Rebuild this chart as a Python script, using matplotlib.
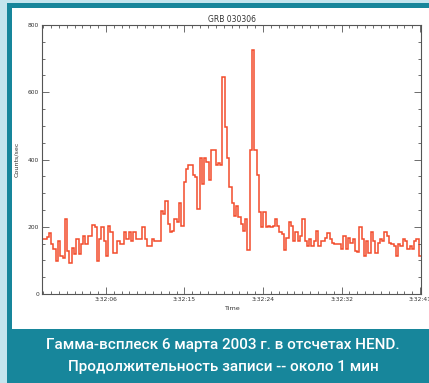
import numpy as np
import matplotlib
matplotlib.use("Agg")
import matplotlib.pyplot as plt
from matplotlib.patches import Rectangle
from matplotlib.ticker import FixedLocator, MultipleLocator

# ---- data ----
title = "GRB 030306"
xlabel = "Time"
ylabel = "Counts/sec"
caption1 = "Гамма-всплеск 6 марта 2003 г. в отсчетах HEND."
caption2 = "Продолжительность записи -- около 1 мин"

bin_width = 0.25  # seconds
counts = [
    165, 165, 170, 181, 148, 133, 98, 158, 113, 108, 223,
    128, 93, 138, 118, 163, 118, 148, 173, 148, 173, 173,
    205, 198, 98, 163, 198, 158, 113, 203, 183, 123, 123,
    158, 148, 148, 183, 163, 183, 158, 183, 163, 163, 163,
    198, 163, 143, 143, 163, 158, 158, 158, 248, 238, 278,
    208, 183, 188, 223, 213, 271, 203, 333, 373, 385, 385,
    353, 348, 253, 403, 328, 403, 393, 338, 428, 428,
    385, 390, 383, 646, 498, 403, 318, 271, 233, 263,
    228, 208, 188, 223, 131, 428, 725, 428, 353, 245,
    198, 245, 198, 203, 198, 203, 223, 203, 183, 178,
    131, 168, 215, 203, 158, 183, 158, 173, 223, 158,
    143, 163, 143, 158, 188, 143, 158, 158, 168, 181,
    163, 153, 148, 148, 148, 133, 173, 133, 168, 153,
    163, 128, 125, 198, 163, 113, 158, 123, 183, 158,
    123, 153, 163, 158, 183, 173, 153, 148, 143, 113,
    148, 143, 163, 158, 133, 143, 133, 158, 163, 113,
]
tick_seconds = [7.0, 15.6, 24.2, 32.8, 41.4]
tick_labels = ["3:32:06", "3:32:15", "3:32:24", "3:32:32", "3:32:41"]
y_ticks = [0, 200, 400, 600, 800]

# ---- style ----
LIGHT = "#c4e5ee"
TEAL = "#17869b"
RED = "#f24b2b"
AXC = "#555555"

W, H = 429, 383
fig = plt.figure(figsize=(W / 100, H / 100), dpi=100, facecolor=LIGHT)

def frect(x0, y0, x1, y1, color, z=0):
    fig.patches.append(Rectangle((x0 / W, 1 - y1 / H), (x1 - x0) / W, (y1 - y0) / H,
                                 transform=fig.transFigure, facecolor=color,
                                 edgecolor="none", zorder=z))

frect(7, 3, W + 2, 383, TEAL, 0)
frect(12, 8, W + 2, 329, "white", 1)

ax = fig.add_axes([42 / W, 1 - 294 / H, (421 - 42) / W, (294 - 25) / H])
ax.set_zorder(2)
ax.set_facecolor("white")

edges = np.arange(len(counts) + 1) * bin_width
ax.stairs(counts, edges, color=RED, lw=1.1, baseline=None)

ax.set_xlim(0, edges[-1])
ax.set_ylim(0, 800)

ax.xaxis.set_major_locator(FixedLocator(tick_seconds))
ax.set_xticklabels(tick_labels)
step = (tick_seconds[1] - tick_seconds[0]) / 10
minor = np.arange(tick_seconds[0] - 10 * step, tick_seconds[-1] + step / 2, step)
ax.xaxis.set_minor_locator(FixedLocator(minor))
ax.yaxis.set_major_locator(FixedLocator(y_ticks))
ax.yaxis.set_minor_locator(MultipleLocator(50))

ax.tick_params(which="both", direction="in", top=True, right=True, color=AXC,
               width=0.6, labelsize=4.3, labelcolor="#333333", pad=2)
ax.tick_params(which="major", length=5)
ax.tick_params(which="minor", length=2.5)
for s in ax.spines.values():
    s.set_color(AXC)
    s.set_linewidth(0.8)

ax.set_title(title, fontsize=5.5, color="#333333", pad=2)
ax.set_xlabel(xlabel, fontsize=4.6, color="#333333", labelpad=3)
ax.set_ylabel(ylabel, fontsize=4.6, color="#333333", labelpad=6)

fig.text(223 / W, 1 - 345 / H, caption1, color="white", fontsize=11,
         family="Roboto", weight="medium", ha="center", va="center", zorder=3)
fig.text(223 / W, 1 - 367 / H, caption2, color="white", fontsize=11,
         family="Roboto", weight="medium", ha="center", va="center", zorder=3)

fig.savefig("out.png", dpi=100, facecolor=LIGHT)
